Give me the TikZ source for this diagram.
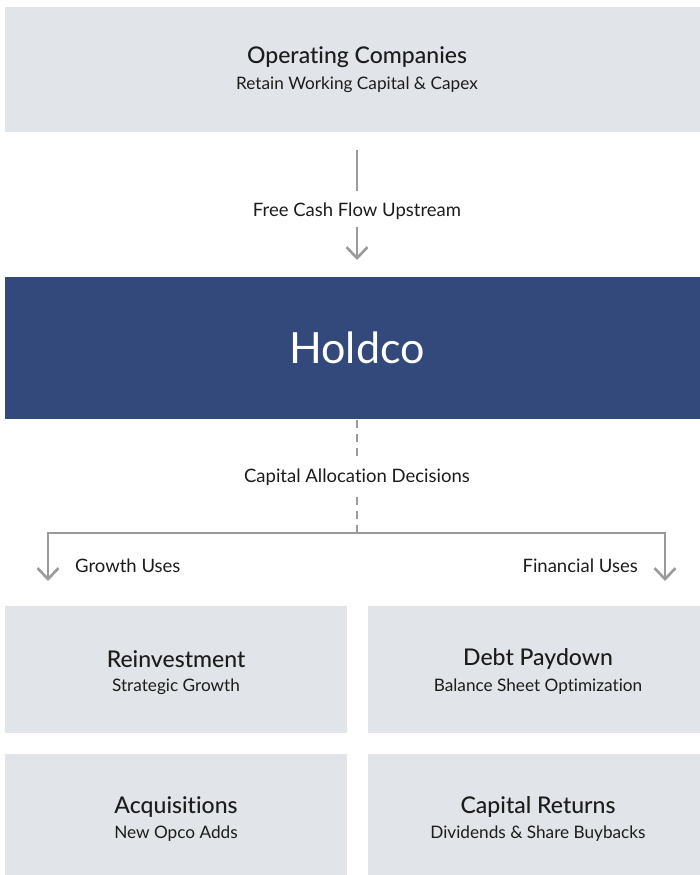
\documentclass[tikz,border=0pt]{standalone}
\usepackage{fontspec}
\setmainfont{Lato}[Ligatures=NoCommon]
\IfFontExistsTF{Lato Medium}
  {\newfontfamily\titlefont{Lato Medium}[Ligatures=NoCommon]}
  {\newfontfamily\titlefont{Lato}[Ligatures=NoCommon,FakeBold=0.6]}
\usetikzlibrary{arrows.meta}
\definecolor{boxgray}{HTML}{E1E4E8}
\definecolor{holdblue}{HTML}{33497C}
\definecolor{linegray}{HTML}{9A9A9A}
\definecolor{ink}{HTML}{1C1C1C}
\begin{document}
\begin{tikzpicture}[x=1pt,y=-1pt,
  panel/.style={fill=boxgray,draw=none},
  title/.style={text=ink,font=\titlefont\fontsize{23}{26}\selectfont,inner sep=0pt},
  sub/.style={text=ink,font=\fontsize{17.2}{20}\selectfont,inner sep=0pt},
  flowlabel/.style={text=ink,font=\fontsize{18.5}{22}\selectfont,inner sep=0pt},
  conn/.style={draw=linegray,line width=2.6pt},
  tip/.style={-{Straight Barb[length=11pt,width=21pt,line width=2.6pt]}},
  dashconn/.style={conn,dash pattern=on 8pt off 6pt}]
\useasboundingbox (0,0) rectangle (700,875);
\begin{scope}
\clip (0,0) rectangle (700,875);
% panels
\fill[panel] (5,7) rectangle (709,132);
\fill[holdblue] (5,277) rectangle (709,419);
\fill[panel] (5,606) rectangle (347,733);
\fill[panel] (368,606) rectangle (709,733);
\fill[panel] (5,754) rectangle (347,880);
\fill[panel] (368,754) rectangle (709,880);
\end{scope}
% texts
\node[title] (opT) at (357,57) {Operating Companies};
\node[sub] (opS) at (357,85) {Retain Working Capital \& Capex};
\node[flowlabel] (fcf) at (357,211) {Free Cash Flow Upstream};
\node[text=white,font=\fontsize{43}{48}\selectfont,inner sep=0pt] (hold) at (357,348) {Holdco};
\node[flowlabel] (cad) at (357,477) {Capital Allocation Decisions};
\node[flowlabel,anchor=west] (gu) at (75,566) {Growth Uses};
\node[flowlabel,anchor=east] (fu) at (638,566) {Financial Uses};
\node[title] (reT) at (176,659) {Reinvestment};
\node[sub] (reS) at (176,687) {Strategic Growth};
\node[title] (dpT) at (538,659) {Debt Paydown};
\node[sub] (dpS) at (538,687) {Balance Sheet Optimization};
\node[title] (acT) at (176,807) {Acquisitions};
\node[sub] (acS) at (176,834) {New Opco Adds};
\node[title] (crT) at (538,807) {Capital Returns};
\node[sub] (crS) at (538,834) {Dividends \& Share Buybacks};
% connector points
\coordinate (a1) at (357,150);
\coordinate (a2) at (357,191);
\coordinate (a3) at (357,227);
\coordinate (a4) at (357,260);
\coordinate (d1) at (357,420);
\coordinate (d1b) at (357,456);
\coordinate (d2a) at (357,497);
\coordinate (d2) at (357,533);
\coordinate (bl) at (48,533);
\coordinate (br) at (665,533);
\coordinate (blt) at (48,581);
\coordinate (brt) at (665,581);
% connectors
\draw[conn] (a1) -- (a2);
\draw[conn,tip] (a3) -- (a4);
\draw[dashconn] (d1) -- (d1b);
\draw[dashconn] (d2) -- (d2a);
\draw[conn,tip,line join=miter] (d2) -- (bl) -- (blt);
\draw[conn,tip,line join=miter] (d2) -- (br) -- (brt);
\end{tikzpicture}
\end{document}
